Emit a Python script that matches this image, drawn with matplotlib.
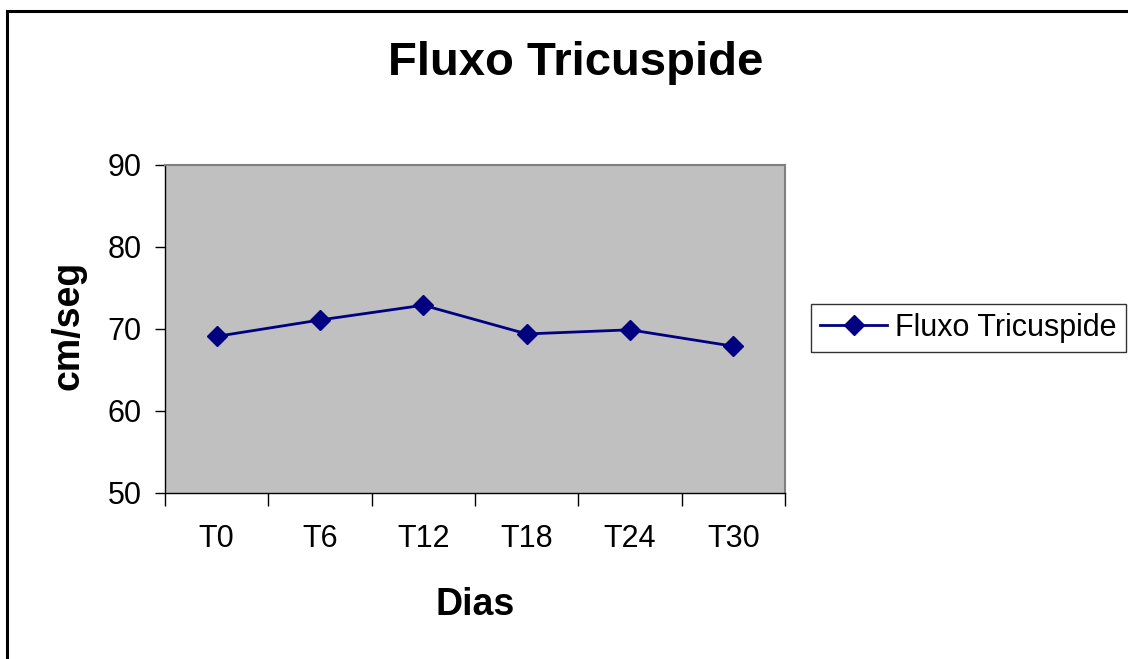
import matplotlib
matplotlib.use('Agg')
from matplotlib import pyplot as plt
from matplotlib.patches import Rectangle

plt.rcParams['font.family'] = ['Liberation Sans', 'DejaVu Sans']

categories = ['T0', 'T6', 'T12', 'T18', 'T24', 'T30']
values = [69.1, 71.1, 72.9, 69.4, 69.9, 67.9]
series_name = 'Fluxo Tricuspide'
yticks = [50, 60, 70, 80, 90]

W, H = 1128, 659
fig = plt.figure(figsize=(W/100, H/100), dpi=100)
fig.patch.set_facecolor('white')

# outer chart frame (right and bottom run off the picture)
fig.patches.append(Rectangle((7/W, -0.05), 1.1, 1-11/H+0.05, transform=fig.transFigure,
                             fill=False, ec='black', lw=2.2))

ax = fig.add_axes([165/W, 1-493/H, 620/W, 328/H])
ax.set_facecolor('#C0C0C0')
x = list(range(len(categories)))
ax.plot(x, values, color='#000080', lw=2, marker='D', ms=10, mec='#000080', mfc='#000080',
        label=series_name)

ax.set_xlim(-0.5, len(categories)-0.5)
ax.set_ylim(50, 90)
ax.set_yticks(yticks)
ax.set_xticks([i-0.5 for i in range(len(categories)+1)])
ax.set_xticklabels([])
ax.set_xticks(x, minor=True)
ax.set_xticklabels(categories, minor=True)
ax.tick_params(axis='x', which='major', length=9, width=1, direction='out', color='black')
ax.tick_params(axis='x', which='minor', length=0, pad=22, labelsize=22)
ax.tick_params(axis='y', length=7, width=1, direction='out', pad=10, labelsize=22)

for s in ['top', 'right']:
    ax.spines[s].set_color('#808080')
    ax.spines[s].set_linewidth(1.5)
for s in ['left', 'bottom']:
    ax.spines[s].set_color('black')
    ax.spines[s].set_linewidth(1)

fig.text(576/W, 1-63/H, 'Fluxo Tricuspide', ha='center', va='center', fontsize=34, fontweight='bold')
fig.text(475/W, 1-605/H, 'Dias', ha='center', va='center', fontsize=27, fontweight='bold')
fig.text(68/W, 1-325/H, 'cm/seg', ha='center', va='center', rotation=90, fontsize=27, fontweight='bold')

leg = fig.legend(loc='center left', bbox_to_anchor=(811/W, 1-328/H), fontsize=22, frameon=True,
                 fancybox=False, edgecolor='black', handlelength=2.2, borderpad=0.3,
                 handletextpad=0.26, borderaxespad=0)
leg.get_frame().set_linewidth(1)

fig.savefig('out.png', dpi=100)
